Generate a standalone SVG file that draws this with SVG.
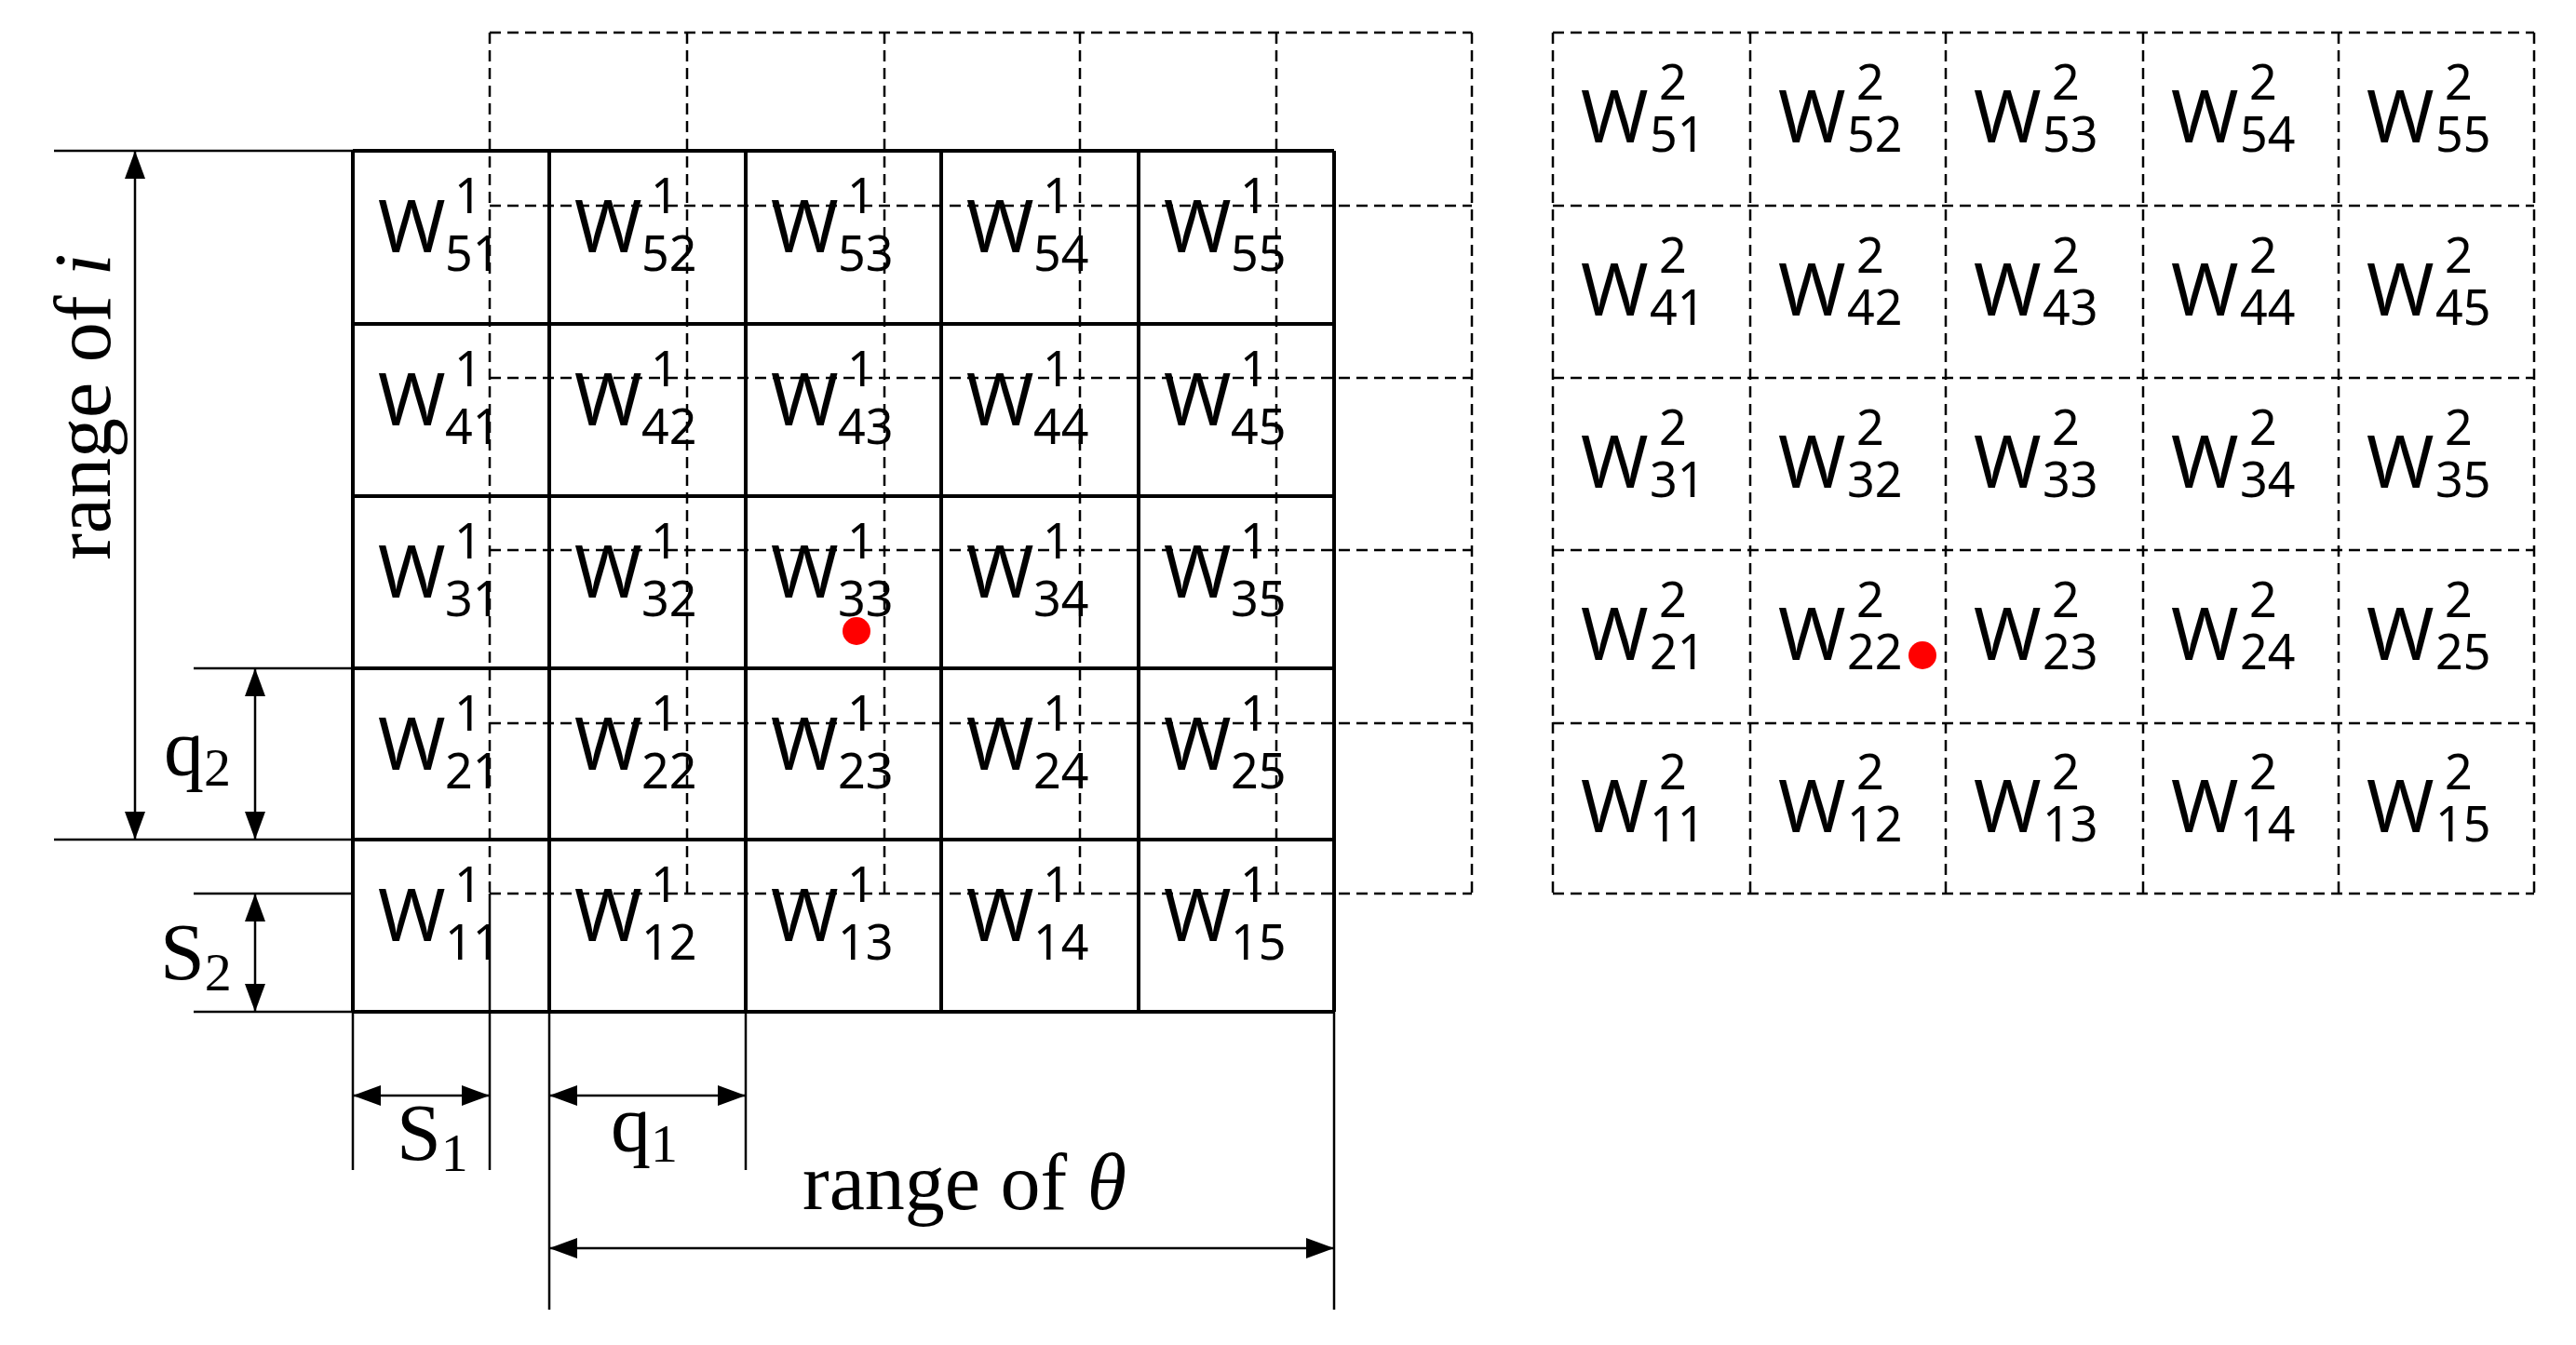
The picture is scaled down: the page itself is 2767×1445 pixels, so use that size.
<svg xmlns="http://www.w3.org/2000/svg" width="2767" height="1445" viewBox="0 0 2767 1445">
<style>
.s{stroke:#000;stroke-width:4;fill:none}
.t{stroke:#000;stroke-width:2.5;fill:none}
.d{stroke:#000;stroke-width:2.5;fill:none;stroke-dasharray:12,7}
.w{font-family:"Noto Sans","DejaVu Sans",sans-serif;font-size:78px;fill:#000}
.sb{font-size:52px}
.r{font-family:"Liberation Serif",serif;font-size:86px;fill:#000}
</style>
<defs>
<marker id="m" viewBox="0 0 10 10" refX="10" refY="5" markerWidth="30" markerHeight="22" markerUnits="userSpaceOnUse" orient="auto-start-reverse" preserveAspectRatio="none"><path d="M0,0L10,5L0,10z" fill="#000"/></marker>
</defs>
<rect width="2767" height="1445" fill="#fff"/>
<g id="dashed-grid-1">
<path class="d" d="M526,35H1581M526,221H1581M526,406H1581M526,591H1581M526,777H1581M526,960H1581M526,35V960M738,35V960M950,35V960M1160,35V960M1371,35V960M1581,35V960"/>
</g>
<g id="grid-1">
<path class="s" d="M379,162H1433M379,348H1433M379,533H1433M379,718H1433M379,902H1433M379,1087H1433M379,162V1087M590,162V1087M801,162V1087M1011,162V1087M1223,162V1087M1433,162V1087"/>
</g>
<g id="grid-2">
<path class="d" d="M1668,35H2722M1668,221H2722M1668,406H2722M1668,591H2722M1668,777H2722M1668,960H2722M1668,35V960M1880,35V960M2090,35V960M2302,35V960M2512,35V960M2722,35V960"/>
</g>
<g id="labels-1">
<g id="W1-row5"><text class="w" x="406" y="271">W<tspan class="sb" x="488" dy="-42">1</tspan><tspan class="sb" x="478" dy="62">51</tspan></text>
<text class="w" x="617" y="271">W<tspan class="sb" x="699" dy="-42">1</tspan><tspan class="sb" x="689" dy="62">52</tspan></text>
<text class="w" x="828" y="271">W<tspan class="sb" x="910" dy="-42">1</tspan><tspan class="sb" x="900" dy="62">53</tspan></text>
<text class="w" x="1038" y="271">W<tspan class="sb" x="1120" dy="-42">1</tspan><tspan class="sb" x="1110" dy="62">54</tspan></text>
<text class="w" x="1250" y="271">W<tspan class="sb" x="1332" dy="-42">1</tspan><tspan class="sb" x="1322" dy="62">55</tspan></text></g>
<g id="W1-row4"><text class="w" x="406" y="457">W<tspan class="sb" x="488" dy="-42">1</tspan><tspan class="sb" x="478" dy="62">41</tspan></text>
<text class="w" x="617" y="457">W<tspan class="sb" x="699" dy="-42">1</tspan><tspan class="sb" x="689" dy="62">42</tspan></text>
<text class="w" x="828" y="457">W<tspan class="sb" x="910" dy="-42">1</tspan><tspan class="sb" x="900" dy="62">43</tspan></text>
<text class="w" x="1038" y="457">W<tspan class="sb" x="1120" dy="-42">1</tspan><tspan class="sb" x="1110" dy="62">44</tspan></text>
<text class="w" x="1250" y="457">W<tspan class="sb" x="1332" dy="-42">1</tspan><tspan class="sb" x="1322" dy="62">45</tspan></text></g>
<g id="W1-row3"><text class="w" x="406" y="642">W<tspan class="sb" x="488" dy="-42">1</tspan><tspan class="sb" x="478" dy="62">31</tspan></text>
<text class="w" x="617" y="642">W<tspan class="sb" x="699" dy="-42">1</tspan><tspan class="sb" x="689" dy="62">32</tspan></text>
<text class="w" x="828" y="642">W<tspan class="sb" x="910" dy="-42">1</tspan><tspan class="sb" x="900" dy="62">33</tspan></text>
<text class="w" x="1038" y="642">W<tspan class="sb" x="1120" dy="-42">1</tspan><tspan class="sb" x="1110" dy="62">34</tspan></text>
<text class="w" x="1250" y="642">W<tspan class="sb" x="1332" dy="-42">1</tspan><tspan class="sb" x="1322" dy="62">35</tspan></text></g>
<g id="W1-row2"><text class="w" x="406" y="827">W<tspan class="sb" x="488" dy="-42">1</tspan><tspan class="sb" x="478" dy="62">21</tspan></text>
<text class="w" x="617" y="827">W<tspan class="sb" x="699" dy="-42">1</tspan><tspan class="sb" x="689" dy="62">22</tspan></text>
<text class="w" x="828" y="827">W<tspan class="sb" x="910" dy="-42">1</tspan><tspan class="sb" x="900" dy="62">23</tspan></text>
<text class="w" x="1038" y="827">W<tspan class="sb" x="1120" dy="-42">1</tspan><tspan class="sb" x="1110" dy="62">24</tspan></text>
<text class="w" x="1250" y="827">W<tspan class="sb" x="1332" dy="-42">1</tspan><tspan class="sb" x="1322" dy="62">25</tspan></text></g>
<g id="W1-row1"><text class="w" x="406" y="1011">W<tspan class="sb" x="488" dy="-42">1</tspan><tspan class="sb" x="478" dy="62">11</tspan></text>
<text class="w" x="617" y="1011">W<tspan class="sb" x="699" dy="-42">1</tspan><tspan class="sb" x="689" dy="62">12</tspan></text>
<text class="w" x="828" y="1011">W<tspan class="sb" x="910" dy="-42">1</tspan><tspan class="sb" x="900" dy="62">13</tspan></text>
<text class="w" x="1038" y="1011">W<tspan class="sb" x="1120" dy="-42">1</tspan><tspan class="sb" x="1110" dy="62">14</tspan></text>
<text class="w" x="1250" y="1011">W<tspan class="sb" x="1332" dy="-42">1</tspan><tspan class="sb" x="1322" dy="62">15</tspan></text></g>
</g>
<g id="labels-2">
<g id="W2-row5"><text class="w" x="1698" y="153">W<tspan class="sb" x="1782" dy="-46">2</tspan><tspan class="sb" x="1772" dy="56">51</tspan></text>
<text class="w" x="1910" y="153">W<tspan class="sb" x="1994" dy="-46">2</tspan><tspan class="sb" x="1984" dy="56">52</tspan></text>
<text class="w" x="2120" y="153">W<tspan class="sb" x="2204" dy="-46">2</tspan><tspan class="sb" x="2194" dy="56">53</tspan></text>
<text class="w" x="2332" y="153">W<tspan class="sb" x="2416" dy="-46">2</tspan><tspan class="sb" x="2406" dy="56">54</tspan></text>
<text class="w" x="2542" y="153">W<tspan class="sb" x="2626" dy="-46">2</tspan><tspan class="sb" x="2616" dy="56">55</tspan></text></g>
<g id="W2-row4"><text class="w" x="1698" y="339">W<tspan class="sb" x="1782" dy="-46">2</tspan><tspan class="sb" x="1772" dy="56">41</tspan></text>
<text class="w" x="1910" y="339">W<tspan class="sb" x="1994" dy="-46">2</tspan><tspan class="sb" x="1984" dy="56">42</tspan></text>
<text class="w" x="2120" y="339">W<tspan class="sb" x="2204" dy="-46">2</tspan><tspan class="sb" x="2194" dy="56">43</tspan></text>
<text class="w" x="2332" y="339">W<tspan class="sb" x="2416" dy="-46">2</tspan><tspan class="sb" x="2406" dy="56">44</tspan></text>
<text class="w" x="2542" y="339">W<tspan class="sb" x="2626" dy="-46">2</tspan><tspan class="sb" x="2616" dy="56">45</tspan></text></g>
<g id="W2-row3"><text class="w" x="1698" y="524">W<tspan class="sb" x="1782" dy="-46">2</tspan><tspan class="sb" x="1772" dy="56">31</tspan></text>
<text class="w" x="1910" y="524">W<tspan class="sb" x="1994" dy="-46">2</tspan><tspan class="sb" x="1984" dy="56">32</tspan></text>
<text class="w" x="2120" y="524">W<tspan class="sb" x="2204" dy="-46">2</tspan><tspan class="sb" x="2194" dy="56">33</tspan></text>
<text class="w" x="2332" y="524">W<tspan class="sb" x="2416" dy="-46">2</tspan><tspan class="sb" x="2406" dy="56">34</tspan></text>
<text class="w" x="2542" y="524">W<tspan class="sb" x="2626" dy="-46">2</tspan><tspan class="sb" x="2616" dy="56">35</tspan></text></g>
<g id="W2-row2"><text class="w" x="1698" y="709">W<tspan class="sb" x="1782" dy="-46">2</tspan><tspan class="sb" x="1772" dy="56">21</tspan></text>
<text class="w" x="1910" y="709">W<tspan class="sb" x="1994" dy="-46">2</tspan><tspan class="sb" x="1984" dy="56">22</tspan></text>
<text class="w" x="2120" y="709">W<tspan class="sb" x="2204" dy="-46">2</tspan><tspan class="sb" x="2194" dy="56">23</tspan></text>
<text class="w" x="2332" y="709">W<tspan class="sb" x="2416" dy="-46">2</tspan><tspan class="sb" x="2406" dy="56">24</tspan></text>
<text class="w" x="2542" y="709">W<tspan class="sb" x="2626" dy="-46">2</tspan><tspan class="sb" x="2616" dy="56">25</tspan></text></g>
<g id="W2-row1"><text class="w" x="1698" y="894">W<tspan class="sb" x="1782" dy="-46">2</tspan><tspan class="sb" x="1772" dy="56">11</tspan></text>
<text class="w" x="1910" y="894">W<tspan class="sb" x="1994" dy="-46">2</tspan><tspan class="sb" x="1984" dy="56">12</tspan></text>
<text class="w" x="2120" y="894">W<tspan class="sb" x="2204" dy="-46">2</tspan><tspan class="sb" x="2194" dy="56">13</tspan></text>
<text class="w" x="2332" y="894">W<tspan class="sb" x="2416" dy="-46">2</tspan><tspan class="sb" x="2406" dy="56">14</tspan></text>
<text class="w" x="2542" y="894">W<tspan class="sb" x="2626" dy="-46">2</tspan><tspan class="sb" x="2616" dy="56">15</tspan></text></g>
</g>
<g id="dots">
<circle cx="920" cy="678" r="15" fill="#f00"/>
<circle cx="2065" cy="704" r="15" fill="#f00"/>
</g>
<g id="connectors">
<path class="t" d="M58,162H379M58,902H379M208,718H379M208,960H379M208,1087H379"/>
<path class="t" d="M379,1087V1257M526,960V1257M590,1087V1407M801,1087V1257M1433,1087V1407"/>
<line class="t" x1="145" y1="162" x2="145" y2="902" marker-start="url(#m)" marker-end="url(#m)"/>
<line class="t" x1="274" y1="718" x2="274" y2="902" marker-start="url(#m)" marker-end="url(#m)"/>
<line class="t" x1="274" y1="960" x2="274" y2="1087" marker-start="url(#m)" marker-end="url(#m)"/>
<line class="t" x1="379" y1="1177" x2="526" y2="1177" marker-start="url(#m)" marker-end="url(#m)"/>
<line class="t" x1="590" y1="1177" x2="801" y2="1177" marker-start="url(#m)" marker-end="url(#m)"/>
<line class="t" x1="590" y1="1341" x2="1433" y2="1341" marker-start="url(#m)" marker-end="url(#m)"/>
</g>
<g id="dim-labels">
<text class="r" transform="translate(118,437) rotate(-90)" text-anchor="middle">range of <tspan font-style="italic">i</tspan></text>
<text class="r" x="176" y="832">q<tspan font-size="58" dy="12">2</tspan></text>
<text class="r" x="172" y="1052">S<tspan font-size="58" dy="12">2</tspan></text>
<text class="r" x="426" y="1246">S<tspan font-size="58" dy="12">1</tspan></text>
<text class="r" x="656" y="1236">q<tspan font-size="58" dy="12">1</tspan></text>
<text class="r" x="1036" y="1299" text-anchor="middle">range of <tspan font-style="italic">θ</tspan></text>
</g>
</svg>
